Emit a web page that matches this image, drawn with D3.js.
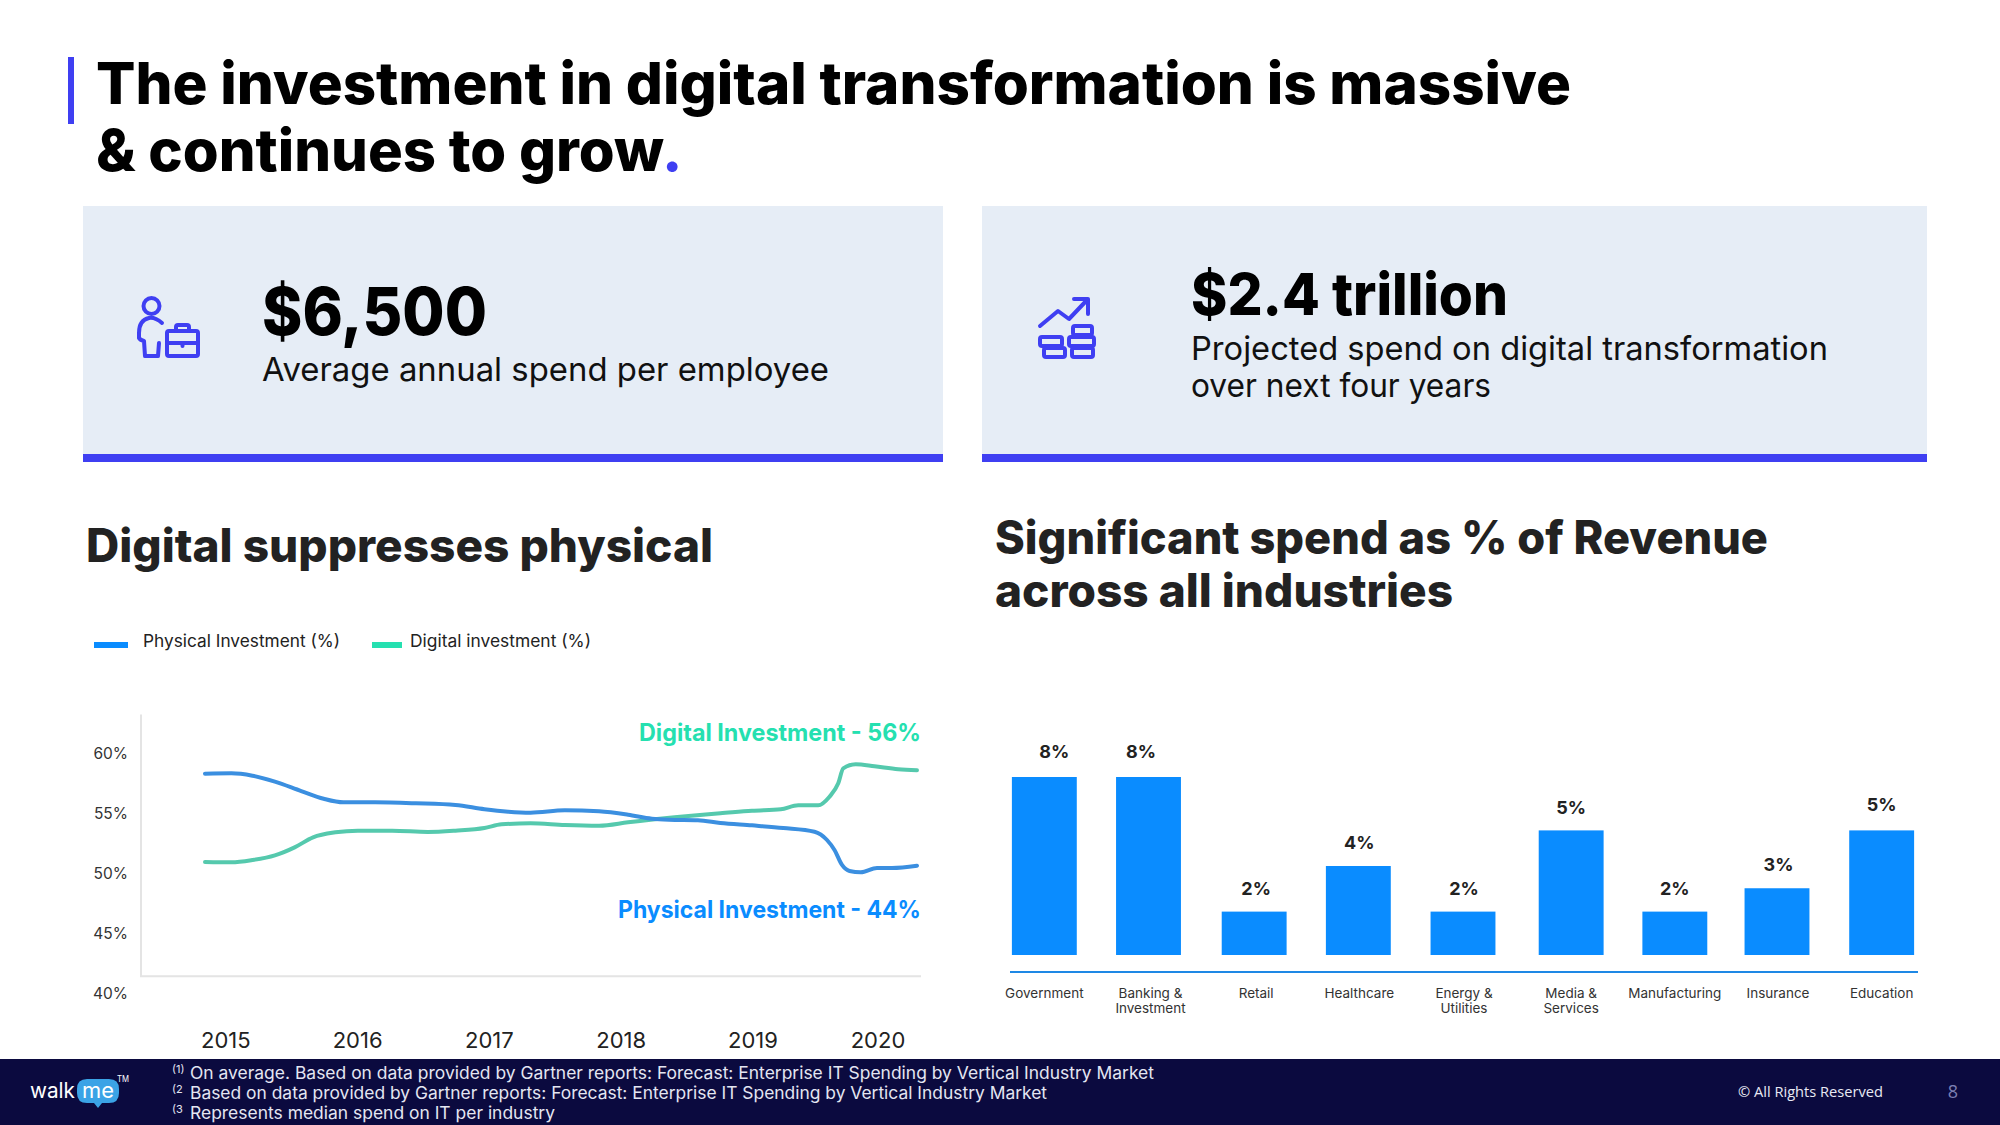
<!DOCTYPE html>
<html><head><meta charset="utf-8">
<script src="https://cdn.jsdelivr.net/npm/d3@7"></script>
<style>html,body{margin:0;padding:0;background:#fff}svg{display:block}text{font-family:Inter,"Noto Sans",sans-serif}</style>
</head><body><svg id="c" width="2000" height="1125"></svg>
<script>
// ---- data ----
const yearTicks = [2015, 2016, 2017, 2018, 2019, 2020];
const pctTicks = [60, 55, 50, 45, 40];
const physicalYears = [2014.85,2015.05,2015.21,2015.38,2015.58,2015.75,2015.90,2016.14,2016.45,2016.75,2016.97,2017.15,2017.32,2017.58,2017.84,2018.06,2018.24,2018.37,2018.59,2018.76,2019.0,2019.25,2019.50,2019.60,2019.66,2019.72,2019.78,2019.87,2020.0,2020.12,2020.32];
const physicalValues = [58.28,58.31,58.11,57.61,56.83,56.19,55.89,55.89,55.81,55.67,55.31,55.11,55.03,55.22,55.14,54.86,54.53,54.44,54.39,54.17,53.97,53.75,53.44,52.75,51.92,50.67,50.17,50.06,50.42,50.42,50.61];
const digitalYears = [2014.85,2015.05,2015.21,2015.38,2015.53,2015.67,2015.84,2016.01,2016.27,2016.54,2016.75,2016.97,2017.10,2017.32,2017.58,2017.84,2018.06,2018.28,2018.54,2018.76,2019.0,2019.23,2019.37,2019.53,2019.62,2019.69,2019.73,2019.83,2019.98,2020.17,2020.32];
const digitalValues = [50.92,50.89,51.08,51.47,52.14,52.97,53.39,53.53,53.53,53.42,53.53,53.75,54.06,54.14,54.0,53.94,54.22,54.5,54.78,54.97,55.19,55.31,55.64,55.64,56.36,57.47,58.72,59.06,58.89,58.64,58.56];
const categories = [["Government"],["Banking &","Investment"],["Retail"],["Healthcare"],["Energy &","Utilities"],["Media &","Services"],["Manufacturing"],["Insurance"],["Education"]];
const barValues = [8, 8, 1.95, 4, 1.95, 5.6, 1.95, 3, 5.6];
const barLabels = ["8%","8%","2%","4%","2%","5%","2%","3%","5%"];
const footnotes = [
  ["(1)","On average. Based on data provided by Gartner reports:  Forecast: Enterprise IT Spending by Vertical Industry Market"],
  ["(2","Based on data provided by Gartner reports:  Forecast: Enterprise IT Spending by Vertical Industry Market"],
  ["(3","Represents median spend on IT per industry"]];

// ---- helpers ----
const C = {accent:"#3f3ff2", card:"#e6edf6", blue:"#0a8cff", teal:"#25e0b0", lineBlue:"#3b8fe0", lineTeal:"#55c9ad", dark:"#222", navy:"#0b0a3f"};
const svg = d3.select("#c");
function T(s,x,y,size,weight,fill,width,anchor){
  const t = svg.append("text").attr("x",x).attr("y",y).attr("font-size",size).attr("font-weight",weight).attr("fill",fill).text(s);
  if(anchor) t.attr("text-anchor",anchor);
  if(width) t.attr("textLength",width).attr("lengthAdjust","spacingAndGlyphs");
  return t;
}

// ---- title and cards ----
svg.append("rect").attr("x",68).attr("y",57).attr("width",6).attr("height",67).attr("fill",C.accent);
T("The investment in digital transformation is massive",96,104,58,800,"#000",1475);
T("& continues to grow",96,171,58,800,"#000",568);
T(".",662,171,58,800,C.accent);
[[83,860],[982,945]].forEach(([x,w])=>{
  svg.append("rect").attr("x",x).attr("y",206).attr("width",w).attr("height",248).attr("fill",C.card);
  svg.append("rect").attr("x",x).attr("y",454).attr("width",w).attr("height",8).attr("fill",C.accent);
});
T("$6,500",262,335,66,800,"#000",225);
T("Average annual spend per employee",262,381,33,400,"#111",567);
T("$2.4 trillion",1191,315,58,800,"#000",317);
T("Projected spend on digital transformation",1191,360,33,400,"#111",637);
T("over next four years",1191,397,33,400,"#111",300);

// icons
const ic = svg.append("g").attr("fill","none").attr("stroke",C.accent).attr("stroke-width",4).attr("stroke-linecap","round").attr("stroke-linejoin","round");
ic.append("circle").attr("cx",151.5).attr("cy",306).attr("r",8);
ic.append("path").attr("d","M162 323 Q155 317 149 318 Q139 320 139 333 L139 338 Q140 340 144 341 L145 356 L158 356 L159 343");
ic.append("rect").attr("x",167).attr("y",331).attr("width",31).attr("height",25).attr("rx",2);
ic.append("path").attr("d","M167 343 H198 M182.5 343 V346 M176 331 V327 Q176 325 178 325 H187 Q189 325 189 327 V331");
ic.append("path").attr("d","M1040 326 L1058 311 L1069 319 L1088 299 M1074 299 H1088 V314");
[[1073,326,19,9],[1069,337,25,9],[1072,348,21,9],[1040,337,22,9],[1044,348,21,9]].forEach(d=>
  ic.append("rect").attr("x",d[0]).attr("y",d[1]).attr("width",d[2]).attr("height",d[3]).attr("rx",2));

// ---- line chart ----
T("Digital suppresses physical",86,562,46,800,C.dark,627);
svg.append("rect").attr("x",94).attr("y",642).attr("width",34).attr("height",6).attr("fill",C.blue);
T("Physical Investment (%)",143,647,17,400,"#222",197);
svg.append("rect").attr("x",372).attr("y",642).attr("width",30).attr("height",6).attr("fill",C.teal);
T("Digital investment (%)",410,647,17,400,"#222",181);

const x = d3.scaleLinear().domain([2014.85,2019,2020,2020.32]).range([205,752,877,917]);
const y = d3.scaleLinear().domain([40,60]).range([993,753]);
const yAxis = d3.axisLeft(y).tickValues(pctTicks).tickSize(0).tickPadding(0).tickFormat(d=>d+"%");
const gy = svg.append("g").attr("transform","translate(128,1)").call(yAxis);
gy.select(".domain").remove();
gy.selectAll("text").attr("font-size",15.5).attr("fill","#333").style("font-family","Inter,sans-serif");
const xAxis = d3.axisBottom(x).tickValues(yearTicks).tickSize(0).tickPadding(0).tickFormat(d3.format("d"));
const gx = svg.append("g").attr("transform","translate(0.5,1033)").call(xAxis);
gx.select(".domain").remove();
gx.selectAll("text").attr("font-size",22).attr("fill","#222").attr("dy","0.7em").style("font-family","Inter,sans-serif");
// axis frame
svg.append("path").attr("d",`M141 ${y(63.2)} V${y(41.4)} H921`).attr("fill","none").attr("stroke","#e4e4e4").attr("stroke-width",2);

const line = d3.line().x(d=>x(d[0])).y(d=>y(d[1])).curve(d3.curveMonotoneX);
svg.append("path").datum(d3.zip(digitalYears,digitalValues)).attr("d",line).attr("fill","none").attr("stroke",C.lineTeal).attr("stroke-width",4).attr("stroke-linecap","round");
svg.append("path").datum(d3.zip(physicalYears,physicalValues)).attr("d",line).attr("fill","none").attr("stroke",C.lineBlue).attr("stroke-width",4).attr("stroke-linecap","round");
T("Digital Investment - 56%",921,741,24,700,C.teal,282,"end");
T("Physical Investment - 44%",921,918,24,700,C.blue,303,"end");

// ---- bar chart ----
T("Significant spend as % of Revenue",995,554,46,800,C.dark,773);
T("across all industries",995,607,46,800,C.dark,458);
const bx = d3.scaleBand().domain(d3.range(categories.length)).range([992,1934]).paddingInner(0.38).paddingOuter(0.19);
const by = d3.scaleLinear().domain([0,8]).range([955,777]);
const shift = i => i===5?3.5:(i===6?2.5:(i===2?0.5:0));
svg.append("g").selectAll("rect").data(barValues).join("rect")
  .attr("x",(d,i)=>bx(i)+shift(i)-(i===1?0.5:0)).attr("width",bx.bandwidth()).attr("y",d=>by(d)).attr("height",d=>by(0)-by(d)).attr("fill",C.blue);
const nudge = i => i===0?10:(i===1?-8:(i===2?2:(i===3?1:(i===4?1:(i===7?1.5:0)))));
svg.append("g").selectAll("text").data(barLabels).join("text")
  .attr("x",(d,i)=>bx(i)+bx.bandwidth()/2+shift(i)+nudge(i)).attr("y",(d,i)=>by(barValues[i])-(i<2?19.5:(i===8?19:(i===5?16:17))))
  .attr("text-anchor","middle").attr("font-size",18).attr("font-weight",700).attr("fill",C.dark).text(d=>d);
svg.append("line").attr("x1",1010).attr("x2",1918).attr("y1",972).attr("y2",972).attr("stroke","#1e88e5").attr("stroke-width",2);
categories.forEach((lines,i)=>{
  const cx = bx(i)+bx.bandwidth()/2 + shift(i) + (i===1?1.5:(i===2?2:(i===3?1:(i===4?1:(i===7?1:0)))));
  lines.forEach((s,j)=>T(s,cx,998+j*15,13.5,400,"#333",null,"middle"));
});

// ---- footer ----
svg.append("rect").attr("x",0).attr("y",1059).attr("width",2000).attr("height",66).attr("fill",C.navy);
const fnWidths = [964,857,365];
footnotes.forEach((f,i)=>{
  const yy = [1079,1099,1119][i];
  T(f[0],172,yy-6,11,400,"#e4e6f2");
  T(f[1],190,yy,17,400,"#e4e6f2",fnWidths[i]);
});
T("walk",30,1098,21,400,"#fff",45);
svg.append("path").attr("d","M87 1079 H109 Q119 1079 119 1089 V1093 Q119 1103 109 1103 H102 L98 1108 L94 1103 H87 Q77 1103 77 1093 V1089 Q77 1079 87 1079 Z").attr("fill","#3ba3e6");
T("me",98,1098,21,400,"#fff",32,"middle");
T("TM",117,1082,9,400,"#fff",12);
svg.append("text").attr("x",1738).attr("y",1097).attr("font-size",15).attr("fill","#e8e9f4").style("font-family","'Open Sans',sans-serif").attr("textLength",145).attr("lengthAdjust","spacingAndGlyphs").text("© All Rights Reserved");
svg.append("text").attr("x",1953).attr("y",1098).attr("font-size",18).attr("fill","#7b80b3").attr("text-anchor","middle").style("font-family","'Open Sans',sans-serif").text("8");
</script></body></html>
